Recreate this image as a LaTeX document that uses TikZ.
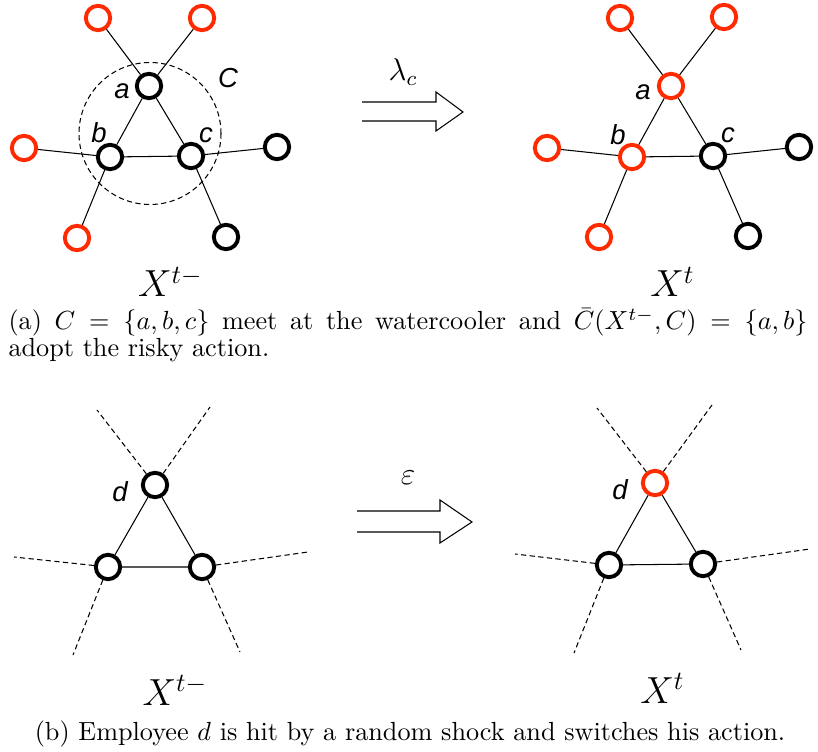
\documentclass[tikz,border=0pt]{standalone}
\usepackage{fontspec}
\usepackage{amsmath}
\newfontfamily\lblfont{Liberation Sans}
\definecolor{risky}{HTML}{FF2A00}
\tikzset{
  agent/.style={circle, draw, line width=1.5pt, minimum size=9.3pt, inner sep=0pt},
  riskyagent/.style={agent, draw=risky},
  link/.style={line width=0.4pt},
  weaklink/.style={link, dash pattern=on 2pt off 1.3pt},
  lbl/.style={font=\lblfont\itshape\fontsize{10.5}{12}\selectfont, inner sep=0pt},
  state/.style={font=\fontsize{14.4}{17}\selectfont, anchor=base, inner sep=0pt},
  rate/.style={font=\fontsize{12}{14}\selectfont, inner sep=0pt},
  caption/.style={font=\fontsize{10}{10.3}\selectfont, inner sep=0pt},
}
\begin{document}
\begin{tikzpicture}[x=0.3817pt, y=-0.3817pt]
    \useasboundingbox (0,0) rectangle (818,752);
    % (a) before the meeting
    \node[riskyagent] (n1) at (98,18) {};
    \node[riskyagent] (n2) at (202,18) {};
    \node[agent] (a) at (149,86) {};
    \node[agent] (b) at (110,157) {};
    \node[agent] (c) at (191,156) {};
    \node[riskyagent] (n3) at (24,148) {};
    \node[agent] (n4) at (277,147) {};
    \node[riskyagent] (n5) at (77,238) {};
    \node[agent] (n6) at (226,237) {};
    \draw[link] (n1) -- (a) (n2) -- (a) (a) -- (b) (a) -- (c) (b) -- (c);
    \draw[link] (n3) -- (b) (b) -- (n5) (c) -- (n4) (c) -- (n6);
    \draw[weaklink] (150,133.5) circle[radius=71];
    \node[lbl] (la) at (122,91) {a};
    \node[lbl] (lb) at (99,133) {b};
    \node[lbl] (lc) at (206,135) {c};
    \node[lbl] (lC) at (228,78) {C};
    \node[state] (xa) at (170.5,297) {$X^{t-}$};
    % (a) transition
    \draw[link] (362,102) -- (436,102) -- (436,92) -- (463,112) -- (436,131) -- (436,121) -- (362,121);
    \node[rate] (lam) at (403,72) {$\lambda_c$};
    % (a) after the meeting
    \node[riskyagent] (m1) at (620,18) {};
    \node[riskyagent] (m2) at (724,17) {};
    \node[riskyagent] (ra) at (671,86) {};
    \node[riskyagent] (rb) at (632,157) {};
    \node[agent] (rc) at (713,156) {};
    \node[riskyagent] (m3) at (547,148) {};
    \node[agent] (m4) at (799,147) {};
    \node[riskyagent] (m5) at (599,237) {};
    \node[agent] (m6) at (748,236) {};
    \draw[link] (m1) -- (ra) (m2) -- (ra) (ra) -- (rb) (ra) -- (rc) (rb) -- (rc);
    \draw[link] (m3) -- (rb) (rb) -- (m5) (rc) -- (m4) (rc) -- (m6);
    \node[lbl] (rla) at (643,92) {a};
    \node[lbl] (rlb) at (618,135) {b};
    \node[lbl] (rlc) at (728,135) {c};
    \node[state] (xb) at (672.5,297) {$X^{t}$};
    \node[caption, text width=305pt, align=justify, anchor=base west] (capa) at (8,330)
      {(a) $C=\{a,b,c\}$ meet at the watercooler and $\bar{C}(X^{t-},C)=\{a,b\}$\linebreak adopt the risky action.};
    % (b) before the shock
    \node[agent] (d) at (155,485) {};
    \node[agent] (e) at (108,567) {};
    \node[agent] (f) at (202,567) {};
    \coordinate (p1) at (97,410);
    \coordinate (p2) at (210,407);
    \coordinate (p3) at (14,557);
    \coordinate (p4) at (73,655);
    \coordinate (p5) at (308,552);
    \coordinate (p6) at (240,652);
    \draw[link] (d) -- (e) (d) -- (f) (e) -- (f);
    \draw[weaklink] (d) -- (p1) (d) -- (p2) (e) -- (p3) (e) -- (p4) (f) -- (p5) (f) -- (p6);
    \node[lbl] (ld) at (120,492) {d};
    \node[state] (xc) at (175,705) {$X^{t-}$};
    % (b) transition
    \draw[link] (357,511) -- (440,511) -- (440,500) -- (472,522) -- (440,543) -- (440,532) -- (357,532);
    \node[rate] (eps) at (408,478) {$\varepsilon$};
    % (b) after the shock
    \node[riskyagent] (rd) at (655,483) {};
    \node[agent] (re) at (609,565) {};
    \node[agent] (rf) at (703,564) {};
    \coordinate (q1) at (597,408);
    \coordinate (q2) at (712,405);
    \coordinate (q3) at (515,554);
    \coordinate (q4) at (574,653);
    \coordinate (q5) at (810,549);
    \coordinate (q6) at (741,650);
    \draw[link] (rd) -- (re) (rd) -- (rf) (re) -- (rf);
    \draw[weaklink] (rd) -- (q1) (rd) -- (q2) (re) -- (q3) (re) -- (q4) (rf) -- (q5) (rf) -- (q6);
    \node[lbl] (rld) at (620,490) {d};
    \node[state] (xd) at (662.5,703) {$X^{t}$};
    \node[caption, anchor=base] (capb) at (410,740)
      {(b) Employee $d$ is hit by a random shock and switches his action.};
\end{tikzpicture}
\end{document}
